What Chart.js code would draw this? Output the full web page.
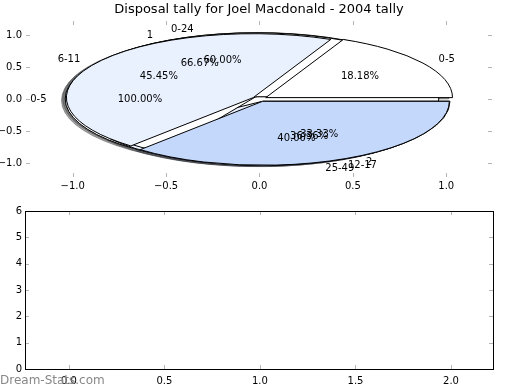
<!DOCTYPE html>
<html lang="en">
<head>
  <meta charset="UTF-8">
  <title>Disposal tally</title>
  <style>
    body { margin: 0; background: #fff; }
    .wrap { position: relative; width: 520px; height: 390px; }
    #pieAxes { position: absolute; left: 0; top: 0; }
    #barAxes { position: absolute; left: 0; top: 200px; }
  </style>
</head>
<body>
  <div class="wrap">
    <canvas id="pieAxes" width="520" height="200"></canvas>
    <canvas id="barAxes" width="520" height="190"></canvas>
  </div>
  <script src="https://cdn.jsdelivr.net/npm/chart.js"></script>
  <script>
// four pies drawn on top of each other
const chartTitle = 'Disposal tally for Joel Macdonald - 2004 tally';
const pieALabels = ['0-5'];
const pieAValues = [1];
const pieBLabels = ['0-5', '6-11', '12-17'];
const pieBValues = [2, 5, 4];
const pieCLabels = ['0-24', '25-49'];
const pieCValues = [3, 2];
const pieDLabels = ['1', '2'];
const pieDValues = [2, 1];

// tick labels
const xTicks = [-1, -0.5, 0, 0.5, 1];
const yTicks = [-1, -0.5, 0, 0.5, 1];
const bottomXTicks = [0, 0.5, 1, 1.5, 2];
const bottomYTicks = [0, 1, 2, 3, 4, 5, 6];

const wedgeColors = ['#ffffff', '#eaf1fe', '#c4d8fc'];
const explode = 0.04;
const tickFont = { family: 'DejaVu Sans', size: 10 };

function fmt(v) {
  return (v < 0 ? '\u2212' : '') + Math.abs(v).toFixed(1);
}

function wedgesOf(values, labels) {
  const total = values.reduce((a, b) => a + b, 0);
  let t1 = 0;
  return values.map((v, i) => {
    const t2 = t1 + v / total;
    const mid = Math.PI * (t1 + t2);
    const w = {
      a1: 2 * Math.PI * t1, a2: 2 * Math.PI * t2, mid,
      cx: explode * Math.cos(mid), cy: explode * Math.sin(mid),
      color: wedgeColors[i % wedgeColors.length],
      label: labels[i], pct: (100 * v / total).toFixed(2) + '%'
    };
    t1 = t2;
    return w;
  });
}

const pies = [
  wedgesOf(pieAValues, pieALabels),
  wedgesOf(pieCValues, pieCLabels),
  wedgesOf(pieDValues, pieDLabels),
  wedgesOf(pieBValues, pieBLabels)
];

function wedgePath(ctx, x, y, w, dx, dy) {
  const cx = x.getPixelForValue(w.cx + dx), cy = y.getPixelForValue(w.cy + dy);
  const rx = x.getPixelForValue(1) - x.getPixelForValue(0);
  const ry = y.getPixelForValue(0) - y.getPixelForValue(1);
  ctx.beginPath();
  if (w.a2 - w.a1 >= 2 * Math.PI - 1e-9) {
    ctx.ellipse(cx, cy, rx, ry, 0, 0, 2 * Math.PI);
  } else {
    ctx.moveTo(cx, cy);
    ctx.ellipse(cx, cy, rx, ry, 0, -w.a1, -w.a2, true);
    ctx.closePath();
  }
}

function shadowColor(hex) {
  const n = parseInt(hex.slice(1), 16);
  const r = Math.round(((n >> 16) & 255) * 0.3), g = Math.round(((n >> 8) & 255) * 0.3), b = Math.round((n & 255) * 0.3);
  return 'rgba(' + r + ',' + g + ',' + b + ',0.5)';
}

const piePlugin = {
  id: 'piePlugin',
  afterDatasetsDraw(chart) {
    const { ctx, chartArea: a, scales: { x, y } } = chart;
    ctx.save();
    ctx.lineWidth = 1;
    // shadows sit below every wedge
    pies.forEach(p => p.forEach(w => {
      wedgePath(ctx, x, y, w, -0.02, -0.02);
      ctx.fillStyle = shadowColor(w.color);
      ctx.strokeStyle = shadowColor(w.color);
      ctx.fill();
      ctx.stroke();
    }));
    pies.forEach(p => p.forEach(w => {
      wedgePath(ctx, x, y, w, 0, 0);
      ctx.fillStyle = w.color;
      ctx.strokeStyle = '#000';
      ctx.fill();
      ctx.stroke();
    }));
    ctx.fillStyle = '#000';
    ctx.font = '10px "DejaVu Sans"';
    ctx.textBaseline = 'middle';
    pies.forEach(p => p.forEach(w => {
      const lx = w.cx + 1.1 * Math.cos(w.mid), ly = w.cy + 1.1 * Math.sin(w.mid);
      ctx.textAlign = lx > 0 ? 'left' : 'right';
      ctx.fillText(w.label, x.getPixelForValue(lx), y.getPixelForValue(ly));
      const px = w.cx + 0.6 * Math.cos(w.mid), py = w.cy + 0.6 * Math.sin(w.mid);
      ctx.textAlign = 'center';
      ctx.fillText(w.pct, x.getPixelForValue(px), y.getPixelForValue(py));
    }));
    // title centred over the axes
    ctx.font = '13px "DejaVu Sans"';
    ctx.fillText(chartTitle, (a.left + a.right) / 2, 10);
    ctx.restore();
  }
};

// matplotlib style ticks pointing inwards, optional frame
const innerTicks = {
  id: 'innerTicks',
  afterDraw(chart, args, opts) {
    const { ctx, chartArea: a, scales: { x, y } } = chart;
    ctx.save();
    ctx.lineWidth = 1;
    ctx.strokeStyle = '#b4b4b4';
    ctx.beginPath();
    x.ticks.forEach(t => {
      const p = Math.round(x.getPixelForValue(t.value)) + 0.5;
      ctx.moveTo(p, a.top); ctx.lineTo(p, a.top + 4);
      ctx.moveTo(p, a.bottom); ctx.lineTo(p, a.bottom - 4);
    });
    y.ticks.forEach(t => {
      const p = Math.round(y.getPixelForValue(t.value)) + 0.5;
      ctx.moveTo(a.left, p); ctx.lineTo(a.left + 4, p);
      ctx.moveTo(a.right, p); ctx.lineTo(a.right - 4, p);
    });
    ctx.stroke();
    if (opts.frame) {
      ctx.strokeStyle = '#000';
      ctx.strokeRect(Math.round(a.left) + 0.5, Math.round(a.top) + 0.5, Math.round(a.right - a.left), Math.round(a.bottom - a.top));
    }
    if (opts.watermark) {
      ctx.fillStyle = '#888';
      ctx.font = '12px "DejaVu Sans"';
      ctx.textAlign = 'left';
      ctx.textBaseline = 'middle';
      ctx.fillText(opts.watermark, 0, 181);
    }
    ctx.restore();
  }
};

new Chart(document.getElementById('pieAxes'), {
  type: 'scatter',
  data: { datasets: [] },
  options: {
    responsive: false,
    animation: false,
    layout: { padding: { left: 0, right: 28, top: 21, bottom: 0 } },
    plugins: {
      legend: { display: false },
      tooltip: { enabled: false },
      innerTicks: { frame: false }
    },
    scales: {
      x: {
        type: 'linear', min: -1.25, max: 1.245,
        grid: { display: false, drawTicks: false }, border: { display: false },
        afterBuildTicks: s => { s.ticks = xTicks.map(v => ({ value: v })); },
        afterFit: s => { s.height = 23; },
        ticks: { padding: 3, color: '#000', font: tickFont, maxRotation: 0, callback: fmt }
      },
      y: {
        type: 'linear', min: -1.22, max: 1.22,
        grid: { display: false, drawTicks: false }, border: { display: false },
        afterBuildTicks: s => { s.ticks = yTicks.map(v => ({ value: v })); },
        afterFit: s => { s.width = 26; },
        ticks: { padding: 4, color: '#000', font: tickFont, callback: fmt }
      }
    }
  },
  plugins: [piePlugin, innerTicks]
});

new Chart(document.getElementById('barAxes'), {
  type: 'scatter',
  data: { datasets: [] },
  options: {
    responsive: false,
    animation: false,
    layout: { padding: { left: 0, right: 27, top: 11, bottom: 0 } },
    plugins: {
      legend: { display: false },
      tooltip: { enabled: false },
      innerTicks: { frame: true, watermark: 'Dream-Stats.com' }
    },
    scales: {
      x: {
        type: 'linear', min: -0.23, max: 2.22,
        grid: { display: false, drawTicks: false }, border: { display: false },
        afterBuildTicks: s => { s.ticks = bottomXTicks.map(v => ({ value: v })); },
        afterFit: s => { s.height = 21; },
        ticks: { padding: 6, color: '#000', font: tickFont, maxRotation: 0, callback: fmt }
      },
      y: {
        type: 'linear', min: 0, max: 6,
        grid: { display: false, drawTicks: false }, border: { display: false },
        afterBuildTicks: s => { s.ticks = bottomYTicks.map(v => ({ value: v })); },
        afterFit: s => { s.width = 25; },
        ticks: { padding: 3, color: '#000', font: tickFont, callback: v => String(v) }
      }
    }
  },
  plugins: [innerTicks]
});
  </script>
</body>
</html>
